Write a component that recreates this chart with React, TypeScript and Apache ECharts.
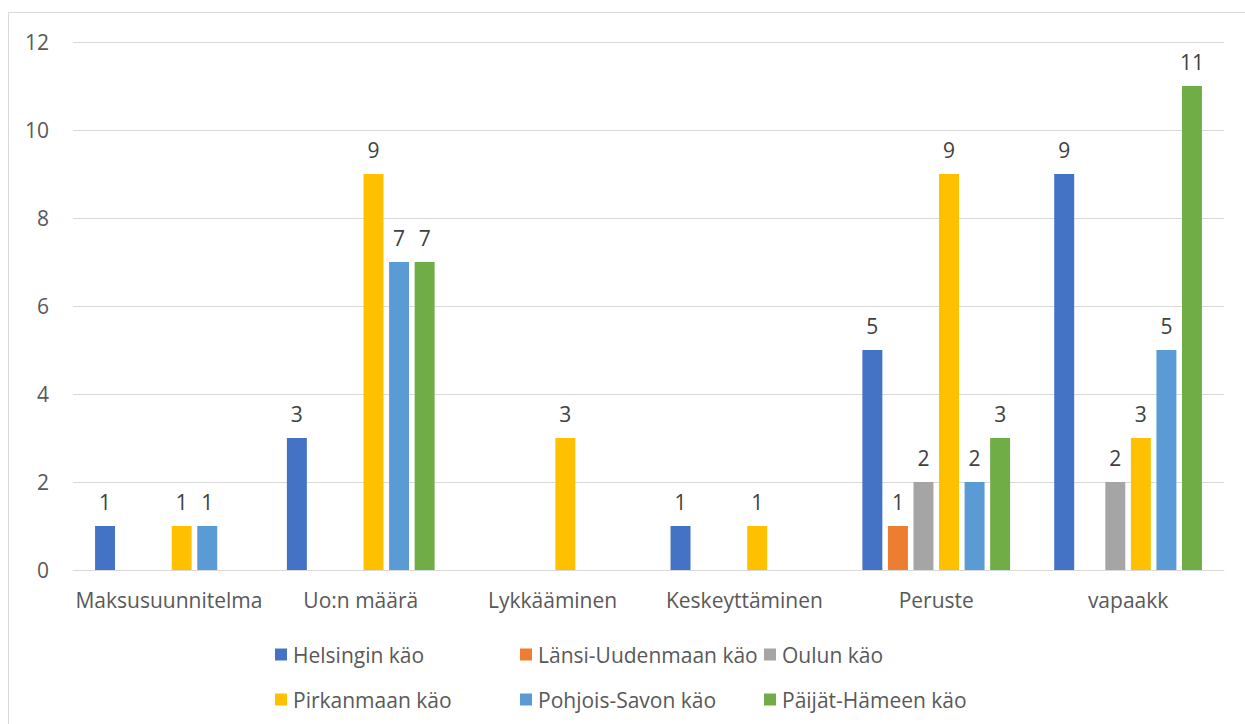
import React, { useEffect, useRef } from "react";
import * as echarts from "echarts";

const categories = ["Maksusuunnitelma", "Uo:n määrä", "Lykkääminen", "Keskeyttäminen", "Peruste", "vapaakk"];
const seriesNames = ["Helsingin käo", "Länsi-Uudenmaan käo", "Oulun käo", "Pirkanmaan käo", "Pohjois-Savon käo", "Päijät-Hämeen käo"];
const helsinki = [1, 3, 0, 1, 5, 9];
const lansiUusimaa = [0, 0, 0, 0, 1, 0];
const oulu = [0, 0, 0, 0, 2, 2];
const pirkanmaa = [1, 9, 3, 1, 9, 3];
const pohjoisSavo = [1, 7, 0, 0, 2, 5];
const paijatHame = [0, 7, 0, 0, 3, 11];
const yTicks = [0, 2, 4, 6, 8, 10, 12];

const colors = ["#4472C4", "#ED7D31", "#A5A5A5", "#FFC000", "#5B9BD5", "#70AD47"];
const FONT = "Open Sans";
const FS = 21;

export default function App() {
  const ref = useRef<HTMLDivElement>(null);
  useEffect(() => {
    document.body.style.margin = "0";
    const chart = echarts.init(ref.current!, null, { renderer: "svg" });
    const values = [helsinki, lansiUusimaa, oulu, pirkanmaa, pohjoisSavo, paijatHame];
    const legendCols = [
      { left: 275, names: [seriesNames[0], seriesNames[3]] },
      { left: 520, names: [seriesNames[1], seriesNames[4]] },
      { left: 764, names: [seriesNames[2], seriesNames[5]] },
    ];
    chart.setOption({
      animation: false,
      color: colors,
      textStyle: { fontFamily: FONT },
      graphic: [
        {
          type: "rect",
          shape: { x: 8.5, y: 12.5, width: 1260, height: 760 },
          style: { fill: "none", stroke: "#D9D9D9", lineWidth: 1 },
          silent: true,
        },
      ],
      legend: legendCols.map((c) => ({
        data: c.names,
        orient: "vertical",
        left: c.left,
        top: 644,
        padding: 0,
        itemGap: 24,
        itemWidth: 12,
        itemHeight: 12,
        icon: "rect",
        textStyle: { fontFamily: FONT, fontSize: FS, color: "#595959", padding: [0, 0, 0, 1] },
      })),
      grid: { left: 73, right: 21, top: 42, bottom: 154, containLabel: false },
      xAxis: {
        type: "category",
        data: categories,
        axisLine: { lineStyle: { color: "#D9D9D9" } },
        axisTick: { show: false },
        axisLabel: { interval: 0, fontFamily: FONT, fontSize: FS, color: "#595959", margin: 19 },
      },
      yAxis: {
        type: "value",
        min: yTicks[0],
        max: yTicks[yTicks.length - 1],
        interval: 2,
        splitLine: { lineStyle: { color: "#D9D9D9" } },
        axisLine: { show: false },
        axisTick: { show: false },
        axisLabel: { fontFamily: FONT, fontSize: FS, color: "#595959", margin: 24 },
      },
      series: seriesNames.map((name, i) => ({
        name,
        type: "bar",
        data: values[i],
        barGap: "28%",
        barCategoryGap: "23%",
        label: {
          show: true,
          position: "top",
          distance: 14,
          fontFamily: FONT,
          fontSize: FS,
          color: "#404040",
          formatter: (p: any) => (p.value === 0 ? "" : String(p.value)),
        },
      })),
    });
    return () => chart.dispose();
  }, []);
  return <div ref={ref} style={{ width: 1245, height: 724 }} />;
}
